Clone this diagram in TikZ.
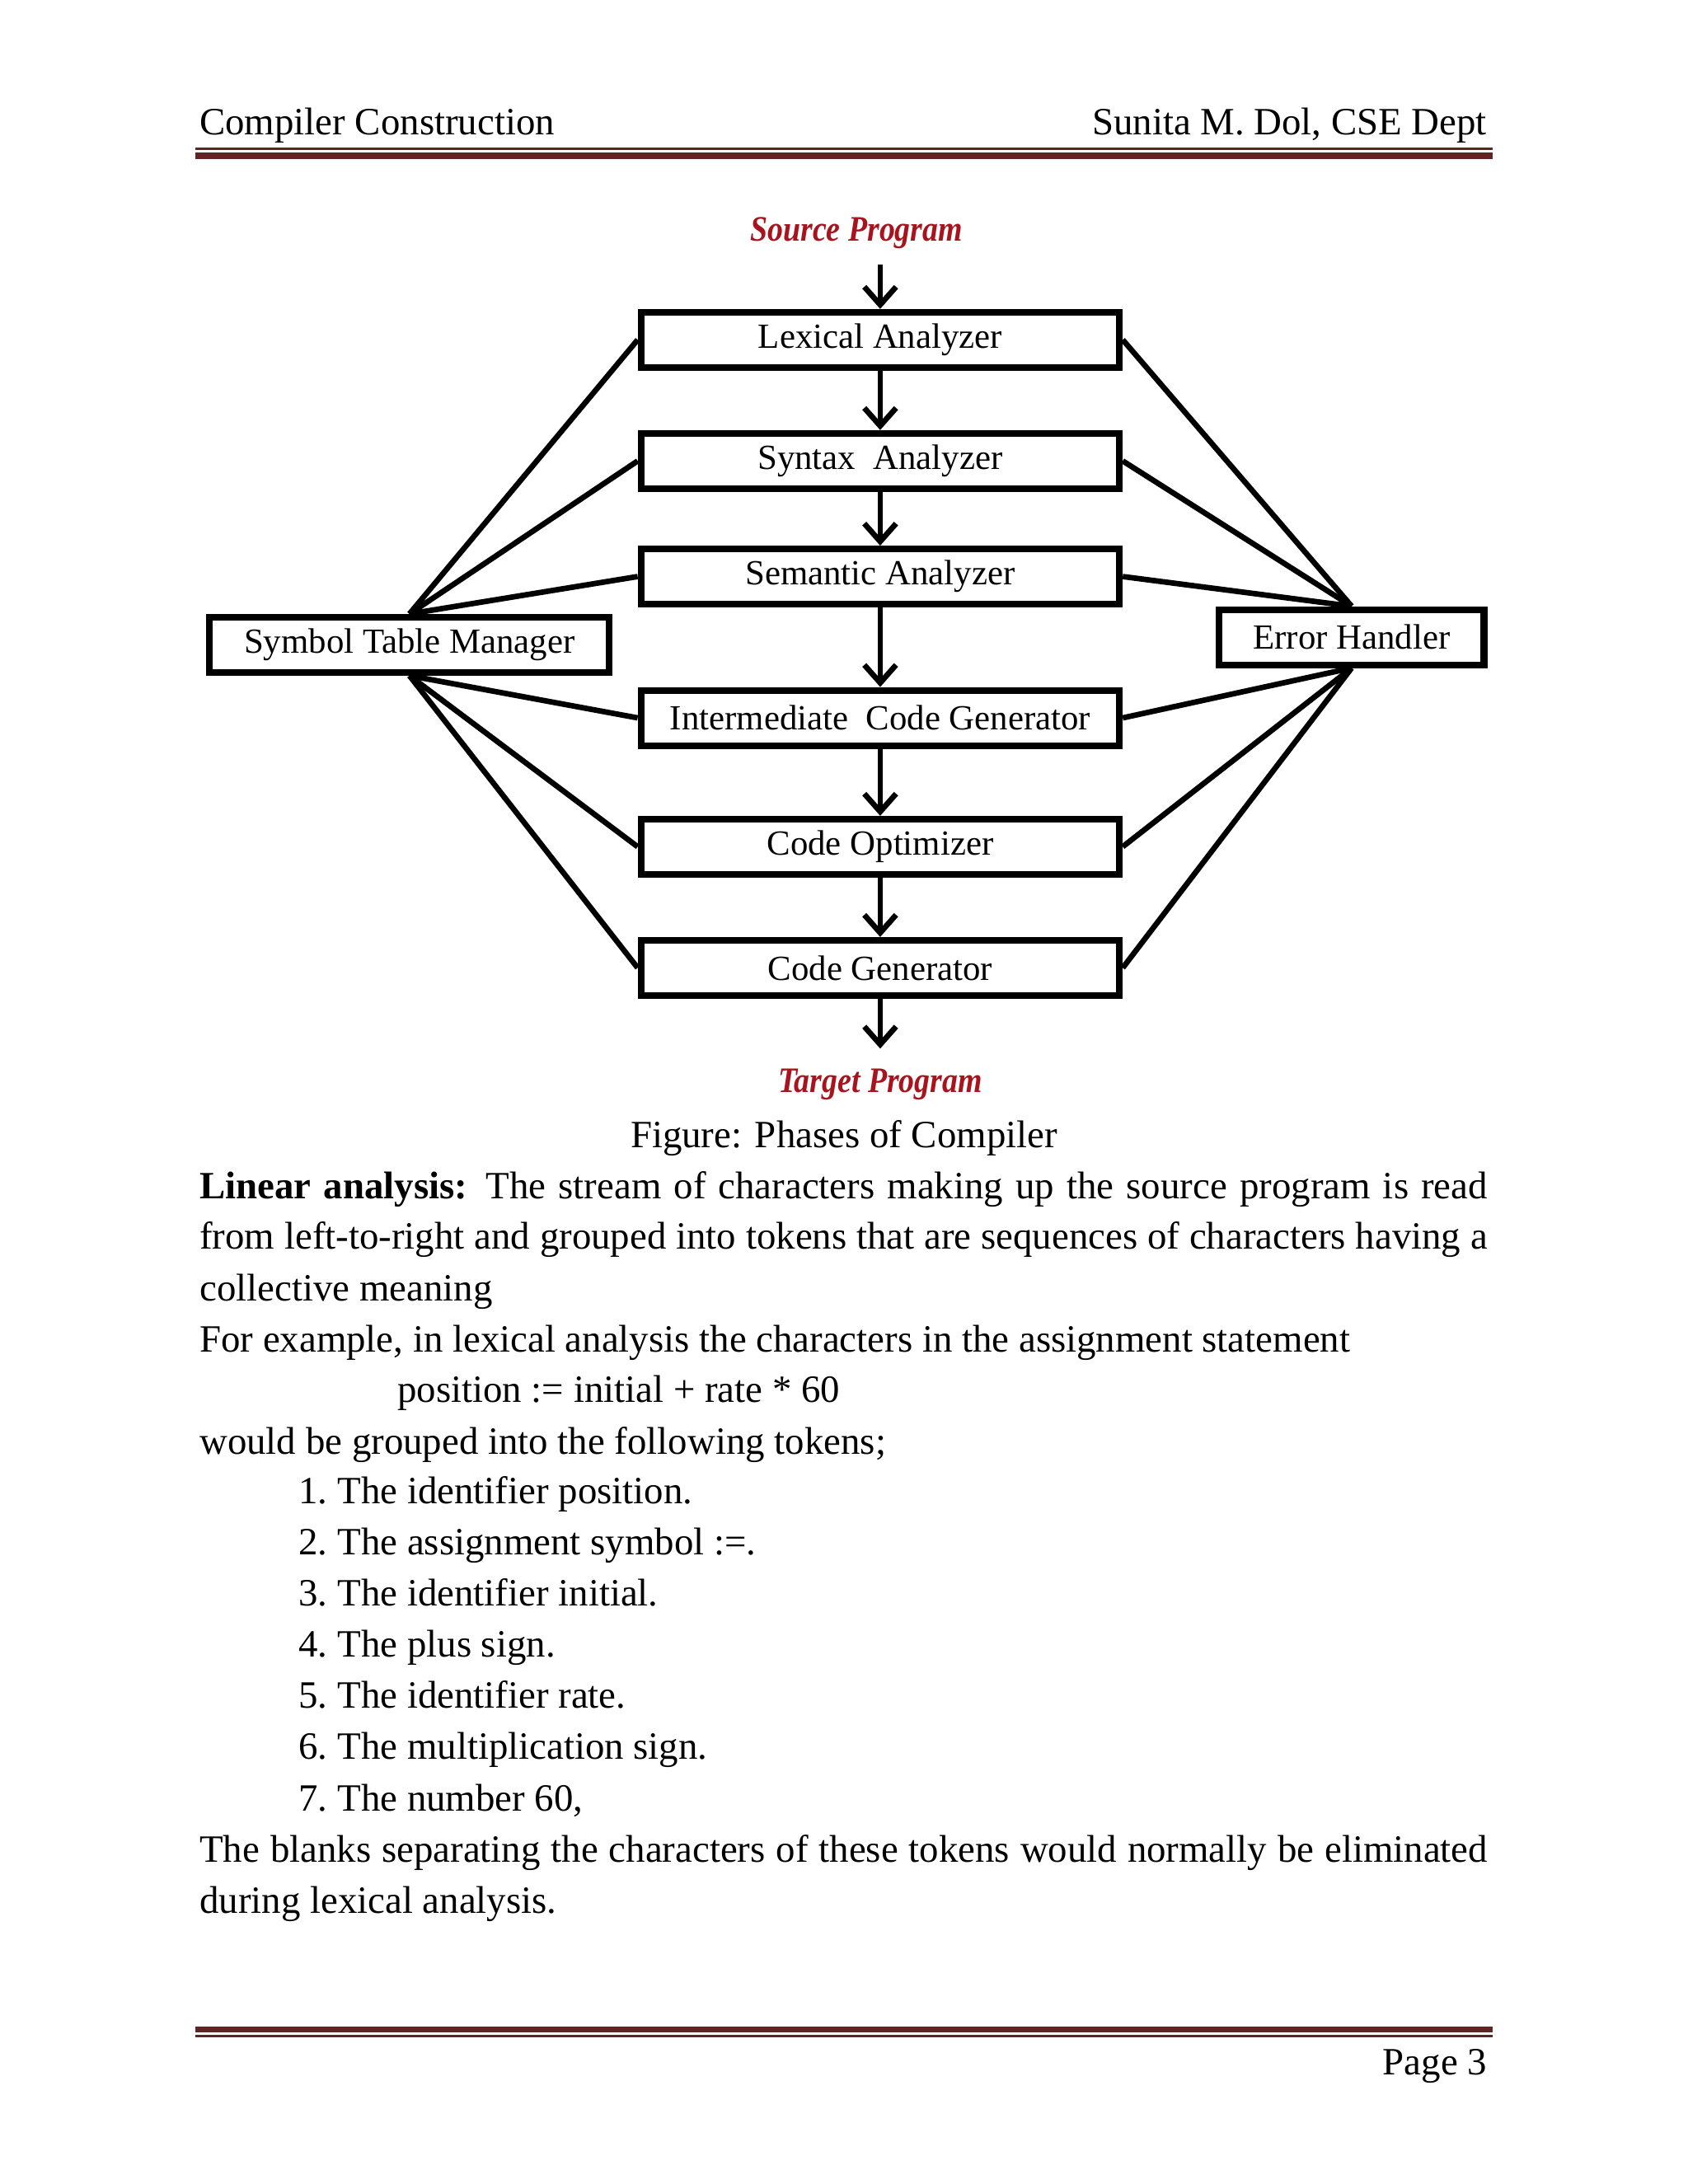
\documentclass[tikz,border=0pt]{standalone}
\usepackage{fontspec}
\setmainfont{Liberation Serif}
\usetikzlibrary{arrows.meta}
\definecolor{rulered}{HTML}{622423}
\definecolor{progred}{HTML}{A8141E}
\begin{document}
\begin{tikzpicture}[x=0.505pt,y=-0.505pt,
  phase/.style={draw, line width=2.4pt, minimum width=173.5pt, minimum height=20pt, inner sep=0pt,
    font=\fontsize{12.8}{14}\selectfont},
  sidebox/.style={draw, line width=2.4pt, minimum height=20pt, inner sep=0pt,
    font=\fontsize{12.8}{14}\selectfont},
  flow/.style={line width=2pt, -{Straight Barb[length=6.5pt,width=11.5pt]}},
  link/.style={line width=2pt},
  prog/.style={inner sep=0pt, text=progred, font=\fontsize{13}{15}\selectfont\bfseries\itshape},
  body/.style={anchor=base west, inner sep=0pt, font=\fontsize{14}{16}\selectfont},
  bodyr/.style={anchor=base east, inner sep=0pt, font=\fontsize{14}{16}\selectfont}]
\useasboundingbox (0,0) rectangle (1212,1568.3);
\fill[white] (0,0) rectangle (1212,1568.3);

% header
\node[body] (hl) at (143,97) {Compiler Construction};
\node[bodyr] (hr) at (1068,97) {Sunita M. Dol, CSE Dept};
\fill[rulered] (140,106.2) rectangle (1072,107.8);
\fill[rulered] (140,109.5) rectangle (1072,114);

% diagram
\node[prog] (src) at (615,167.5) {\scalebox{0.87}[1]{Source Program}};
\coordinate (srcarr) at (632,190);
\node[phase] (lex) at (632,244) {Lexical Analyzer};
\node[phase] (syn) at (632,331) {Syntax\ \ Analyzer};
\node[phase] (sem) at (632,414) {Semantic Analyzer};
\node[phase] (icg) at (632,515.5) {Intermediate\ \ Code Generator};
\node[phase] (opt) at (632,608) {Code Optimizer};
\node[phase] (gen) at (632,695) {Code Generator};
\coordinate (tgtarr) at (632,753);
\node[prog] (tgt) at (632,778.5) {\scalebox{0.87}[1]{Target Program}};
\node[sidebox, minimum width=145pt] (stm) at (294,463) {Symbol Table Manager};
\node[sidebox, minimum width=96pt] (eh) at (970.5,457.5) {Error Handler};

\draw[flow] (srcarr) -- (lex.north);
\draw[flow] (lex) -- (syn);
\draw[flow] (syn) -- (sem);
\draw[flow] (sem) -- (icg);
\draw[flow] (icg) -- (opt);
\draw[flow] (opt) -- (gen);
\draw[flow] (gen.south) -- (tgtarr);

\foreach \b in {lex,syn,sem} {
  \draw[link] (stm.north) -- (\b.west);
  \draw[link] (eh.north) -- (\b.east);
}
\foreach \b in {icg,opt,gen} {
  \draw[link] (stm.south) -- (\b.west);
  \draw[link] (eh.south) -- (\b.east);
}

% caption and body text
\node[anchor=base, inner sep=0pt, font=\fontsize{14}{16}\selectfont] (cap) at (606,824) {Figure: Phases of Compiler};
\node[body] (l1) at (143,861) {\makebox[467pt][s]{\textbf{Linear analysis:} The stream of characters making up the source program is read}};
\node[body] (l2) at (143,897) {\makebox[467pt][s]{from left-to-right and grouped into tokens that are sequences of characters having a}};
\node[body] (l3) at (143,934) {collective meaning};
\node[body] (l4) at (143,971) {For example, in lexical analysis the characters in the assignment statement};
\node[body] (l5) at (285,1007) {position := initial + rate * 60};
\node[body] (l6) at (143,1044) {would be grouped into the following tokens;};
\foreach \i/\t [evaluate=\i as \yy using 1080+(\i-1)*36.7] in
  {1/The identifier position.,
   2/The assignment symbol :=.,
   3/The identifier initial.,
   4/The plus sign.,
   5/The identifier rate.,
   6/The multiplication sign.,
   7/{The number 60,}} {
  \node[body] (num\i) at (214,\yy) {\i.};
  \node[body] (item\i) at (242,\yy) {\t};
}
\node[body] (l7) at (143,1337) {\makebox[467pt][s]{The blanks separating the characters of these tokens would normally be eliminated}};
\node[body] (l8) at (143,1374) {during lexical analysis.};

% footer
\fill[rulered] (140,1455) rectangle (1072,1459.5);
\fill[rulered] (140,1461.2) rectangle (1072,1462.8);
\node[bodyr] (pg) at (1068,1490) {Page 3};
\end{tikzpicture}
\end{document}
